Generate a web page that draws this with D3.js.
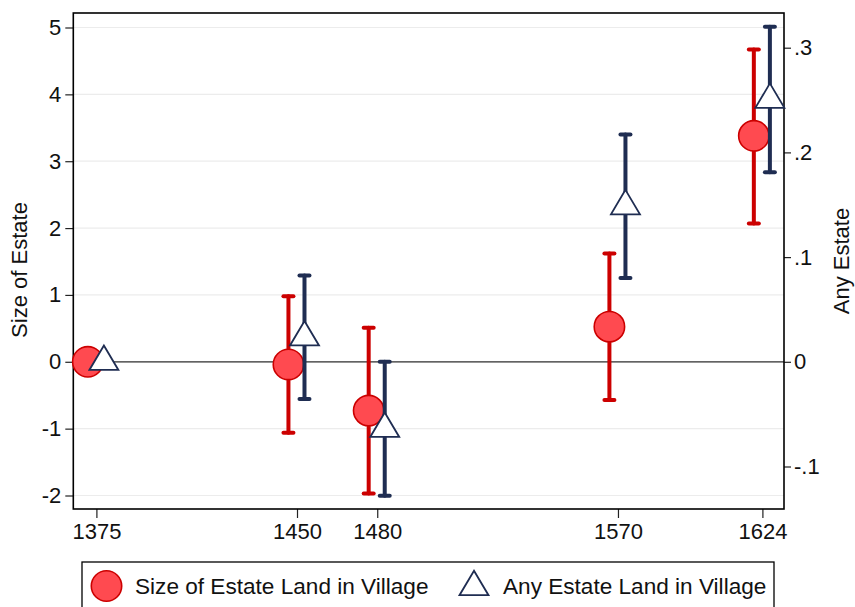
<!DOCTYPE html>
<html>
<head>
<meta charset="utf-8">
<script src="https://cdn.jsdelivr.net/npm/d3@7"></script>
<style>
  html, body { margin: 0; padding: 0; background: #fff; }
  svg { display: block; font-family: "Liberation Sans", Arial, Helvetica, sans-serif; }
</style>
</head>
<body>
<svg id="chart" width="855" height="607"></svg>
<script>
// ---- data ----
const years = [1375, 1450, 1480, 1570, 1624];
const sizeEst = [0, -0.04, -0.73, 0.525, 3.38];
const sizeLo  = [null, -1.06, -1.97, -0.57, 2.07];
const sizeHi  = [null, 0.98, 0.51, 1.62, 4.67];
const anyEst  = [0, 0.0234, -0.064, 0.1486, 0.2503];
const anyLo   = [null, -0.0356, -0.128, 0.080, 0.181];
const anyHi   = [null, 0.0824, 0.000, 0.217, 0.320];
const leftTicks = [-2, -1, 0, 1, 2, 3, 4, 5];
const rightTicks = [-0.1, 0, 0.1, 0.2, 0.3];
const rightTickLabels = ["-.1", "0", ".1", ".2", ".3"];
const xTicks = years;
const seriesNames = ["Size of Estate Land in Village", "Any Estate Land in Village"];
const leftTitle = "Size of Estate";
const rightTitle = "Any Estate";
const sizeOffset = -3.2;   // years, horizontal dodge
const anyOffset = 2.8;

// ---- layout ----
const plot = { left: 73.3, right: 784, top: 13, bottom: 509 };
const red = "#cc0000", redFill = "#ff4a50", navy = "#1f2d52";

const svg = d3.select("#chart");
const x = d3.scaleLinear().domain([1375, 1624]).range([96.4, 762.4]);
const yL = d3.scaleLinear().domain([-2, 5]).range([495.5, 27.5]);
const yR = d3.scaleLinear().domain([-0.1, 0.3]).range([466.5, 47.7]);

// gridlines
svg.append("g").selectAll("line").data(leftTicks).join("line")
  .attr("x1", plot.left).attr("x2", plot.right)
  .attr("y1", d => yL(d)).attr("y2", d => yL(d))
  .attr("stroke", "#ececec").attr("stroke-width", 1.2);

// zero line
svg.append("line")
  .attr("x1", plot.left).attr("x2", plot.right)
  .attr("y1", yL(0)).attr("y2", yL(0))
  .attr("stroke", "#333").attr("stroke-width", 1.2);

// axes
const fs = 22;
const axL = svg.append("g").attr("transform", `translate(${plot.left},0)`)
  .call(d3.axisLeft(yL).tickValues(leftTicks).tickSize(8).tickPadding(4).tickFormat(d3.format("d")));
const axR = svg.append("g").attr("transform", `translate(${plot.right},0)`)
  .call(d3.axisRight(yR).tickValues(rightTicks).tickSize(7).tickPadding(3).tickFormat((d, i) => rightTickLabels[i]));
const axB = svg.append("g").attr("transform", `translate(0,${plot.bottom})`)
  .call(d3.axisBottom(x).tickValues(xTicks).tickSize(9).tickPadding(5).tickFormat(d3.format("d")));
[axL, axR, axB].forEach(a => {
  a.select(".domain").remove();
  a.selectAll(".tick line").attr("stroke", "#222").attr("stroke-width", 1.2);
  a.selectAll(".tick text").attr("font-size", fs).attr("fill", "#111");
});
axL.selectAll(".tick text").text(d => d < 0 ? "-" + Math.abs(d) : d);

// frame
svg.append("rect")
  .attr("x", plot.left).attr("y", plot.top)
  .attr("width", plot.right - plot.left).attr("height", plot.bottom - plot.top)
  .attr("fill", "none").attr("stroke", "#000").attr("stroke-width", 1.6);

// axis titles
svg.append("text").attr("transform", `translate(27,270) rotate(-90)`)
  .attr("text-anchor", "middle").attr("font-size", fs).attr("fill", "#111").text(leftTitle);
svg.append("text").attr("transform", `translate(849,261) rotate(-90)`)
  .attr("text-anchor", "middle").attr("font-size", fs).attr("fill", "#111").text(rightTitle);

// series data
const sizeData = years.map((yr, i) => ({ yr, v: sizeEst[i], lo: sizeLo[i], hi: sizeHi[i] }));
const anyData = years.map((yr, i) => ({ yr, v: anyEst[i], lo: anyLo[i], hi: anyHi[i] }));

function errorBars(data, yScale, off, color) {
  const g = svg.append("g").attr("stroke", color).attr("stroke-width", 4).attr("stroke-linecap", "round");
  const d2 = data.filter(d => d.lo !== null);
  g.selectAll(".v").data(d2).join("line")
    .attr("x1", d => x(d.yr + off)).attr("x2", d => x(d.yr + off))
    .attr("y1", d => yScale(d.lo)).attr("y2", d => yScale(d.hi));
  ["lo", "hi"].forEach(k => {
    g.selectAll(".c" + k).data(d2).join("line")
      .attr("x1", d => x(d.yr + off) - 5).attr("x2", d => x(d.yr + off) + 5)
      .attr("y1", d => yScale(d[k])).attr("y2", d => yScale(d[k]));
  });
}

const triW = 29, triH = 24.5;
const triPath = `M0,${-2 * triH / 3}L${triW / 2},${triH / 3}L${-triW / 2},${triH / 3}Z`;

errorBars(sizeData, yL, sizeOffset, red);
svg.append("g").selectAll("circle").data(sizeData).join("circle")
  .attr("cx", d => x(d.yr + sizeOffset)).attr("cy", d => yL(d.v)).attr("r", 15.2)
  .attr("fill", redFill).attr("stroke", red).attr("stroke-width", 1.6);

errorBars(anyData, yR, anyOffset, navy);
svg.append("g").selectAll("path").data(anyData).join("path")
  .attr("transform", d => `translate(${x(d.yr + anyOffset)},${yR(d.v)})`)
  .attr("d", triPath).attr("fill", "#fff").attr("stroke", navy).attr("stroke-width", 1.8)
  .attr("stroke-linejoin", "miter");

// legend
const lfs = 22.6;
const lg = svg.append("g");
lg.append("rect").attr("x", 82).attr("y", 562).attr("width", 692).attr("height", 60)
  .attr("fill", "#fff").attr("stroke", "#000").attr("stroke-width", 1.3);
lg.append("circle").attr("cx", 106.5).attr("cy", 586).attr("r", 15.2)
  .attr("fill", redFill).attr("stroke", red).attr("stroke-width", 1.6);
lg.append("text").attr("x", 135).attr("y", 594).attr("font-size", lfs).attr("fill", "#111").text(seriesNames[0]);
lg.append("path").attr("transform", "translate(474,587)").attr("d", triPath)
  .attr("fill", "#fff").attr("stroke", navy).attr("stroke-width", 1.8);
lg.append("text").attr("x", 503).attr("y", 594).attr("font-size", lfs).attr("fill", "#111").text(seriesNames[1]);
</script>
</body>
</html>
